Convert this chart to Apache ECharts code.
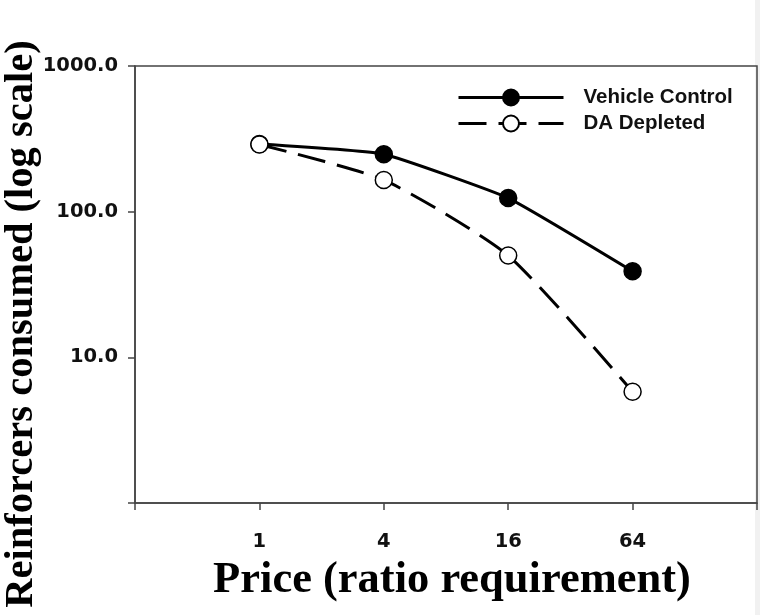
<!DOCTYPE html>
<html>
<head>
<meta charset="utf-8">
<script src="https://cdn.jsdelivr.net/npm/echarts@6/dist/echarts.min.js"></script>
<style>html,body{margin:0;padding:0;background:#fff}#c{width:760px;height:615px}</style>
</head>
<body>
<div id="c"></div>
<script>
const prices = [1, 4, 16, 64];
const vehicleControl = [291, 248, 124, 39];
const daDepleted = [289, 165, 50, 5.8];
const xTickLabels = ['1', '4', '16', '64'];
const yTickLabels = ['1000.0', '100.0', '10.0'];
const seriesNames = ['Vehicle Control', 'DA Depleted'];

const chart = echarts.init(document.getElementById('c'), null, {renderer: 'canvas'});
const axisColor = '#444';
const tickFont = {fontFamily: 'DejaVu Sans', fontWeight: 'bold', fontSize: 19.5, color: '#111'};

chart.setOption({
  animation: false,
  backgroundColor: '#fff',
  grid: {left: 135, right: 2, top: 66, bottom: 112, show: true, borderColor: axisColor, borderWidth: 1.5, backgroundColor: 'transparent'},
  legend: {
    orient: 'vertical', left: 452, top: 82, itemWidth: 105, itemHeight: 20, itemGap: 5,
    data: seriesNames,
    lineStyle: {width: 3},
    textStyle: {fontFamily: 'Liberation Sans', fontWeight: 'bold', fontSize: 20.5, color: '#111', padding: [0, 0, 0, 15]}
  },
  xAxis: {
    type: 'log', logBase: 4, min: 0.25, max: 256, interval: 1,
    axisLine: {show: true, lineStyle: {color: axisColor, width: 1.5}},
    axisTick: {show: true, inside: false, length: 7, lineStyle: {color: axisColor, width: 1.5}},
    minorTick: {show: false},
    splitLine: {show: false},
    axisLabel: Object.assign({margin: 29, formatter: function (v) {
      const r = Math.round(v);
      const i = prices.indexOf(r);
      return (i >= 0 && Math.abs(v - r) < 1e-6) ? xTickLabels[i] : '';
    }}, tickFont)
  },
  yAxis: {
    type: 'log', logBase: 10, min: 1, max: 1000, interval: 1,
    axisLine: {show: true, lineStyle: {color: axisColor, width: 1.5}},
    axisTick: {show: true, inside: false, length: 7, lineStyle: {color: axisColor, width: 1.5}},
    minorTick: {show: false},
    splitLine: {show: false},
    axisLabel: Object.assign({margin: 17, formatter: function (v) {
      const r = Math.round(v);
      if (r === 1000) return yTickLabels[0];
      if (r === 100) return yTickLabels[1];
      if (r === 10) return yTickLabels[2];
      return '';
    }}, tickFont)
  },
  graphic: [
    {type: 'rect', z: -10, shape: {x: 755, y: 0, width: 5, height: 615}, style: {fill: '#f1f1f1'}},
    {type: 'text', x: 22, y: 324, rotation: Math.PI / 2,
      style: {text: 'Reinforcers consumed (log scale)', fontFamily: 'Liberation Serif', fontWeight: 'bold', fontSize: 40.5,
        fill: '#000', align: 'center', verticalAlign: 'middle'}},
    {type: 'text', x: 452, y: 580,
      style: {text: 'Price (ratio requirement)', fontFamily: 'Liberation Serif', fontWeight: 'bold', fontSize: 44.5,
        fill: '#000', align: 'center', verticalAlign: 'middle'}}
  ],
  series: [
    {
      name: seriesNames[0], type: 'line', smooth: 0.12,
      data: prices.map((p, i) => [p, vehicleControl[i]]),
      symbol: 'circle', symbolSize: 17,
      lineStyle: {color: '#000', width: 3},
      itemStyle: {color: '#000', borderColor: '#000', borderWidth: 1.5}
    },
    {
      name: seriesNames[1], type: 'line', smooth: 0.2,
      data: prices.map((p, i) => [p, daDepleted[i]]),
      symbol: 'circle', symbolSize: 17,
      lineStyle: {color: '#000', width: 3, type: [28, 12]},
      itemStyle: {color: '#fff', borderColor: '#000', borderWidth: 1.5}
    }
  ]
});
</script>
</body>
</html>
